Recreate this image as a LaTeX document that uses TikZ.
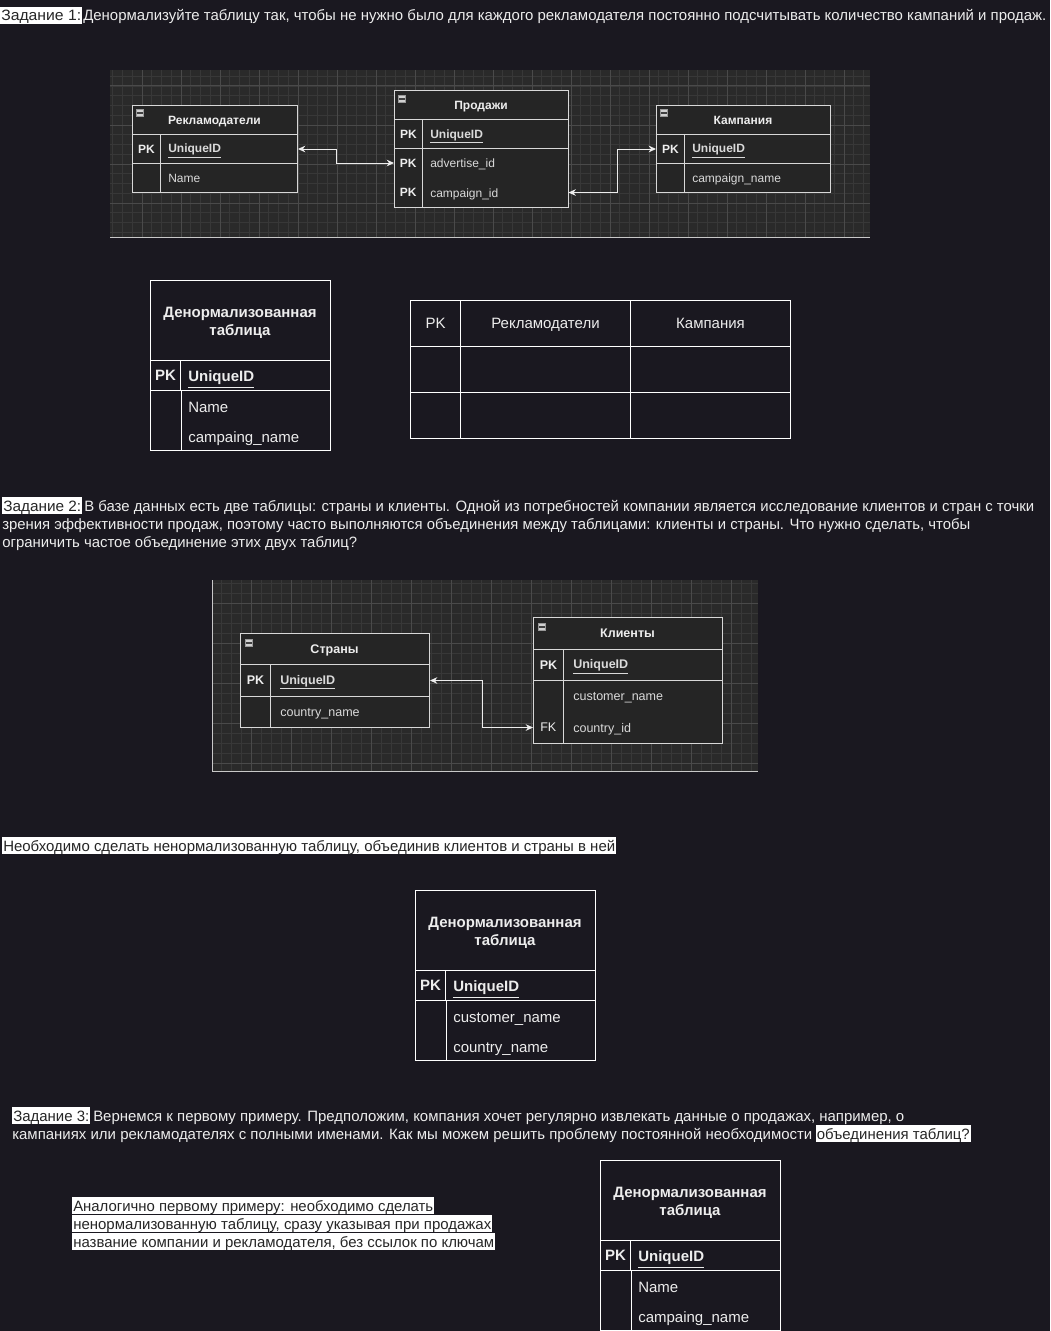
\documentclass[tikz,border=0pt]{standalone}
\usepackage{fontspec}
\setmainfont{Liberation Sans}
\usetikzlibrary{arrows.meta,fit}

\definecolor{pagebg}{HTML}{1A1820}
\definecolor{panelbg}{HTML}{2A2A2A}
\definecolor{gminorc}{HTML}{383838}
\definecolor{gmajorc}{HTML}{4A4A4A}
\definecolor{tablebg}{HTML}{252525}
\definecolor{erline}{HTML}{D8D8D8}
\definecolor{ink}{HTML}{EDEDED}
\definecolor{hlink}{HTML}{262626}
\definecolor{rim}{HTML}{C8C8C8}

% scale a line of text horizontally to a given width (in px units)
\newlength\fitlen
\newcommand\fitto[2]{\settowidth\fitlen{#2}\pgfmathsetmacro\fitfac{#1*0.75/\fitlen}\scalebox{\fitfac}[1]{#2}}

\newcommand\erfont{\fontsize{9}{10.8}\selectfont}
\newcommand\bodyfont{\fontsize{11.25}{13.5}\selectfont}

\tikzset{
  sz/.style 2 args={minimum width=#1*0.75pt, minimum height=#2*0.75pt},
  cell/.style={draw=erline, fill=tablebg, line width=0.75pt, inner sep=0pt, anchor=north west},
  ghost/.style={fill=tablebg, inner sep=0pt, anchor=north west},
  erouter/.style={draw=erline, line width=0.75pt, inner sep=0pt},
  erdiv/.style={draw=erline, line width=0.75pt},
  erhead/.style={text=ink, font=\erfont\bfseries, inner sep=0pt, text height=6.4pt, text depth=0pt},
  erkey/.style={text=ink, font=\erfont\bfseries, inner sep=0pt, text height=6.4pt, text depth=0pt},
  erkeyr/.style={text=ink, font=\erfont, inner sep=0pt, text height=6.4pt, text depth=0pt},
  erfield/.style={text=ink!92!black, font=\erfont, inner sep=0pt, anchor=west, text height=6.4pt, text depth=0pt},
  erarrow/.style={draw=ink, line width=0.75pt, {Stealth[length=5.5pt,width=5pt]}-{Stealth[length=5.5pt,width=5pt]}},
  minus/.style={draw=black!40, fill=white!82!black, minimum size=5.6pt, inner sep=0pt,
    path picture={\fill[black!75] ([xshift=0.9pt,yshift=-0.45pt]path picture bounding box.west) rectangle ([xshift=-0.9pt,yshift=0.45pt]path picture bounding box.east);}},
  gminor/.style={draw=gminorc, line width=0.5pt},
  gmajor/.style={draw=gmajorc, line width=0.75pt},
  panelrim/.style={draw=rim, line width=0.75pt},
  dcell/.style={draw=white, line width=0.75pt, inner sep=0pt, anchor=north west},
  ddiv/.style={draw=white, line width=0.75pt},
  dhead/.style={text=ink, font=\bodyfont\bfseries, align=center, inner sep=0pt},
  dkey/.style={text=ink, font=\bodyfont\bfseries, inner sep=0pt, text height=8pt, text depth=0pt},
  dfield/.style={text=ink, font=\bodyfont, inner sep=0pt, anchor=west, text height=8pt, text depth=0pt},
  gtext/.style={text=ink, font=\bodyfont, inner sep=0pt, text height=8pt, text depth=0pt},
  txt/.style={text=ink, font=\bodyfont, inner sep=0pt, anchor=base west},
  hl/.style={fill=white, text=hlink, font=\bodyfont, inner xsep=0.75pt, inner ysep=0pt,
    text height=10.5pt, text depth=2.25pt, anchor=base west},
}

\begin{document}
\begin{tikzpicture}[x=0.75pt,y=-0.75pt]
\path[use as bounding box, fill=pagebg] (0,0) rectangle (1050,1331);

% ---------------- task 1 ----------------
\node[hl] (t1-tag) at (0,21) {\fitto{80}{Задание 1:}};
\node[txt] (t1-l1) at (83,21) {\fitto{963}{Денормализуйте таблицу так, чтобы не нужно было для каждого рекламодателя постоянно подсчитывать количество кампаний и продаж.}};

% ER canvas 1
\begin{scope}
  \clip (110,70) rectangle (870,238);
  \fill[panelbg] (110,70) rectangle (870,238);
  \foreach \gx in {112.75,122.5,...,870} \draw[gminor] (\gx,70) -- (\gx,238);
  \foreach \gy in {76.25,86,...,238} \draw[gminor] (110,\gy) -- (870,\gy);
  \foreach \gx in {142,181,...,870} \draw[gmajor] (\gx,70) -- (\gx,238);
  \foreach \gy in {86,125,...,238} \draw[gmajor] (110,\gy) -- (870,\gy);
\end{scope}
\draw[panelrim] (110,237.5) -- (870,237.5);

% Рекламодатели
\node[cell, sz={165}{29}] (rk-h) at (132,105) {};
\node[erhead] (rk-title) at (214.5,120) {Рекламодатели};
\node[minus] (rk-min) at (140,113) {};
\node[cell, sz={28}{29}] (rk-id-k) at (132,134) {};
\node[cell, sz={137}{29}] (rk-id-f) at (160,134) {};
\node[erkey] (rk-id-pk) at (rk-id-k.center) {PK};
\node[erfield] (rk-id-t) at (168,148.5) {\textbf{\underline{UniqueID}}};
\node[cell, sz={28}{29}] (rk-nm-k) at (132,163) {};
\node[cell, sz={137}{29}] (rk-nm-f) at (160,163) {};
\node[erfield] (rk-nm-t) at (168,178) {Name};

% Продажи
\node[cell, sz={174}{29}] (pr-h) at (394,90) {};
\node[erhead] (pr-title) at (481,105) {Продажи};
\node[minus] (pr-min) at (402,99) {};
\node[cell, sz={28}{29}] (pr-id-k) at (394,119) {};
\node[cell, sz={146}{29}] (pr-id-f) at (422,119) {};
\node[erkey] (pr-id-pk) at (pr-id-k.center) {PK};
\node[erfield] (pr-id-t) at (430,134) {\textbf{\underline{UniqueID}}};
\node[ghost, sz={28}{29.5}] (pr-ad-k) at (394,148) {};
\node[ghost, sz={146}{29.5}] (pr-ad-f) at (422,148) {};
\node[ghost, sz={28}{29.5}] (pr-cp-k) at (394,177.5) {};
\node[ghost, sz={146}{29.5}] (pr-cp-f) at (422,177.5) {};
\node[erouter, fit=(pr-ad-k)(pr-cp-f)] (pr-body) {};
\draw[erdiv] (pr-ad-k.north east) -- (pr-cp-k.south east);
\node[erkey] (pr-ad-pk) at (pr-ad-k.center) {PK};
\node[erfield] (pr-ad-t) at (430,163.25) {advertise\_id};
\node[erkey] (pr-cp-pk) at (pr-cp-k.center) {PK};
\node[erfield] (pr-cp-t) at (430,192.75) {campaign\_id};

% Кампания
\node[cell, sz={174}{29}] (km-h) at (656,105) {};
\node[erhead] (km-title) at (743,120) {Кампания};
\node[minus] (km-min) at (664,113) {};
\node[cell, sz={28}{29}] (km-id-k) at (656,134) {};
\node[cell, sz={146}{29}] (km-id-f) at (684,134) {};
\node[erkey] (km-id-pk) at (km-id-k.center) {PK};
\node[erfield] (km-id-t) at (692,148.5) {\textbf{\underline{UniqueID}}};
\node[cell, sz={28}{29}] (km-nm-k) at (656,163) {};
\node[cell, sz={146}{29}] (km-nm-f) at (684,163) {};
\node[erfield] (km-nm-t) at (692,178) {campaign\_name};

% relations
\draw[erarrow] (rk-id-f.east) -- ++(38,0) |- (pr-ad-k.west);
\draw[erarrow] (pr-cp-f.east) -- ++(49,0) |- (km-id-k.west);

% denormalized table 1
\node[dcell, sz={180}{80}] (d1-h) at (150,280) {};
\node[dhead] (d1-title) at (240,323) {Денормализованная\\таблица};
\node[dcell, sz={30}{30}] (d1-id-k) at (150,360) {};
\node[dcell, sz={150}{30}] (d1-id-f) at (180,360) {};
\node[dkey] (d1-pk) at (d1-id-k.center) {PK};
\node[dfield] (d1-id-t) at (188,376.5) {\textbf{\underline{UniqueID}}};
\node[dcell, sz={180}{60}] (d1-body) at (150,390) {};
\draw[ddiv] (d1-id-k.south east) -- (d1-id-k.south east |- d1-body.south);
\node[dfield] (d1-nm-t) at (188,407) {Name};
\node[dfield] (d1-cp-t) at (188,437) {campaing\_name};

% sample grid
\foreach \r/\gy in {1/300,2/346,3/392}
  \foreach \c/\gx/\gw in {1/410/50,2/460/170,3/630/160}
    \node[dcell, sz={\gw}{46}] (g\r\c) at (\gx,\gy) {};
\node[gtext] (g-pk) at (g11.center) {PK};
\node[gtext] (g-rk) at (g12.center) {Рекламодатели};
\node[gtext] (g-km) at (g13.center) {Кампания};

% ---------------- task 2 ----------------
\node[hl] (t2-tag) at (2,511) {\fitto{78}{Задание 2:}};
\node[txt] (t2-l1) at (84,511) {\fitto{950}{В базе данных есть две таблицы: страны и клиенты. Одной из потребностей компании является исследование клиентов и стран с точки}};
\node[txt] (t2-l2) at (2,529) {\fitto{968}{зрения эффективности продаж, поэтому часто выполняются объединения между таблицами: клиенты и страны. Что нужно сделать, чтобы}};
\node[txt] (t2-l3) at (2,547) {\fitto{355}{ограничить частое объединение этих двух таблиц?}};

% ER canvas 2
\begin{scope}
  \clip (212,580) rectangle (758,772);
  \fill[panelbg] (212,580) rectangle (758,772);
  \foreach \gx in {211,221,...,758} \draw[gminor] (\gx,580) -- (\gx,772);
  \foreach \gy in {583,593,...,772} \draw[gminor] (212,\gy) -- (758,\gy);
  \foreach \gx in {251,291,...,758} \draw[gmajor] (\gx,580) -- (\gx,772);
  \foreach \gy in {603,643,...,772} \draw[gmajor] (212,\gy) -- (758,\gy);
\end{scope}
\draw[panelrim] (212.5,580) -- (212.5,771.5) -- (758,771.5);

\begin{scope}
\renewcommand\erfont{\fontsize{9.4}{11.2}\selectfont}
% Страны
\node[cell, sz={189}{31}] (st-h) at (240,633) {};
\node[erhead] (st-title) at (334.5,649) {Страны};
\node[minus] (st-min) at (249,643) {};
\node[cell, sz={30}{32}] (st-id-k) at (240,664) {};
\node[cell, sz={159}{32}] (st-id-f) at (270,664) {};
\node[erkey] (st-id-pk) at (st-id-k.center) {PK};
\node[erfield] (st-id-t) at (280,680) {\textbf{\underline{UniqueID}}};
\node[cell, sz={30}{31}] (st-nm-k) at (240,696) {};
\node[cell, sz={159}{31}] (st-nm-f) at (270,696) {};
\node[erfield] (st-nm-t) at (280,712) {country\_name};

% Клиенты
\node[cell, sz={189}{32}] (kl-h) at (533,617) {};
\node[erhead] (kl-title) at (627.5,633.5) {Клиенты};
\node[minus] (kl-min) at (542,627) {};
\node[cell, sz={30}{31}] (kl-id-k) at (533,649) {};
\node[cell, sz={159}{31}] (kl-id-f) at (563,649) {};
\node[erkey] (kl-id-pk) at (kl-id-k.center) {PK};
\node[erfield] (kl-id-t) at (573,664.5) {\textbf{\underline{UniqueID}}};
\node[ghost, sz={30}{31.5}] (kl-cn-k) at (533,680) {};
\node[ghost, sz={159}{31.5}] (kl-cn-f) at (563,680) {};
\node[ghost, sz={30}{31.5}] (kl-fk-k) at (533,711.5) {};
\node[ghost, sz={159}{31.5}] (kl-fk-f) at (563,711.5) {};
\node[erouter, fit=(kl-cn-k)(kl-fk-f)] (kl-body) {};
\draw[erdiv] (kl-cn-k.north east) -- (kl-fk-k.south east);
\node[erfield] (kl-cn-t) at (573,696.25) {customer\_name};
\node[erkeyr] (kl-fk-fk) at (kl-fk-k.center) {FK};
\node[erfield] (kl-fk-t) at (573,727.75) {country\_id};

\draw[erarrow] (st-id-f.east) -- ++(52,0) |- (kl-fk-k.west);
\end{scope}

\node[hl] (n2) at (2,851) {\fitto{612}{Необходимо сделать ненормализованную таблицу, объединив клиентов и страны в ней}};

% denormalized table 2
\node[dcell, sz={180}{80}] (d2-h) at (415,890) {};
\node[dhead] (d2-title) at (505,933) {Денормализованная\\таблица};
\node[dcell, sz={30}{30}] (d2-id-k) at (415,970) {};
\node[dcell, sz={150}{30}] (d2-id-f) at (445,970) {};
\node[dkey] (d2-pk) at (d2-id-k.center) {PK};
\node[dfield] (d2-id-t) at (453,986.5) {\textbf{\underline{UniqueID}}};
\node[dcell, sz={180}{60}] (d2-body) at (415,1000) {};
\draw[ddiv] (d2-id-k.south east) -- (d2-id-k.south east |- d2-body.south);
\node[dfield] (d2-cn-t) at (453,1017) {customer\_name};
\node[dfield] (d2-co-t) at (453,1047) {country\_name};

% ---------------- task 3 ----------------
\node[hl] (t3-tag) at (12,1121) {\fitto{76}{Задание 3:}};
\node[txt] (t3-l1) at (93,1121) {\fitto{811}{Вернемся к первому примеру. Предположим, компания хочет регулярно извлекать данные о продажах, например, о}};
\node[txt] (t3-l2) at (12,1139) {\fitto{800}{кампаниях или рекламодателях с полными именами. Как мы можем решить проблему постоянной необходимости}};
\node[hl] (t3-hl) at (815.5,1139) {\fitto{153}{объединения таблиц?}};

\node[hl] (nb-1) at (72,1211) {\fitto{360}{Аналогично первому примеру: необходимо сделать}};
\node[hl] (nb-2) at (72,1229) {\fitto{418}{ненормализованную таблицу, сразу указывая при продажах}};
\node[hl] (nb-3) at (72,1247) {\fitto{421}{название компании и рекламодателя, без ссылок по ключам}};

% denormalized table 3
\node[dcell, sz={180}{80}] (d3-h) at (600,1160) {};
\node[dhead] (d3-title) at (690,1203) {Денормализованная\\таблица};
\node[dcell, sz={30}{30}] (d3-id-k) at (600,1240) {};
\node[dcell, sz={150}{30}] (d3-id-f) at (630,1240) {};
\node[dkey] (d3-pk) at (d3-id-k.center) {PK};
\node[dfield] (d3-id-t) at (638,1256.5) {\textbf{\underline{UniqueID}}};
\node[dcell, sz={180}{59.5}] (d3-body) at (600,1270) {};
\draw[ddiv] (d3-id-k.south east) -- (d3-id-k.south east |- d3-body.south);
\node[dfield] (d3-nm-t) at (638,1287) {Name};
\node[dfield] (d3-cp-t) at (638,1317) {campaing\_name};
\end{tikzpicture}
\end{document}
